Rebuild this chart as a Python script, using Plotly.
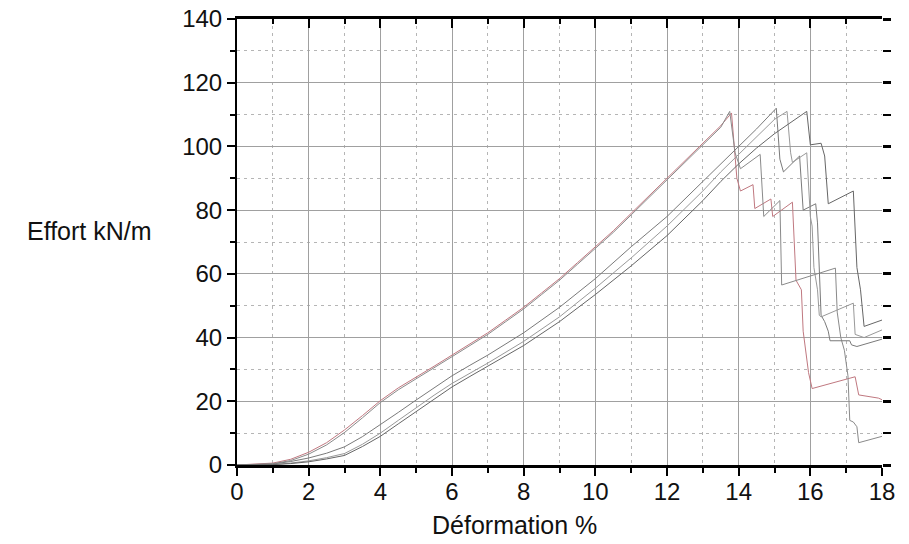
import plotly.graph_objects as go

# Rising + post-peak branches for five test specimens (Déformation %, Effort kN/m)
a_x = [0, 0.5, 1, 1.5, 2, 2.5, 3, 3.5, 4, 4.5, 5, 5.5, 6, 6.5, 7, 7.5, 8, 8.5, 9, 9.5, 10, 10.5, 11, 11.5, 12, 12.5, 13, 13.5, 13.8,
       13.95, 14.05, 14.4, 14.45, 14.9, 14.95, 15.5, 15.6, 15.75, 15.8, 15.95, 16.05, 17.25, 17.35, 17.9, 18]
a_y = [0, 0.2, 0.6, 1.8, 4, 7, 11, 15.5, 20.2, 24.2, 27.5, 31, 34.5, 38, 41.5, 45.5, 49.5, 54, 58.5, 63.5, 68.5, 73.5, 79, 84.5, 90, 95.5, 101, 106.5, 110.5,
       90, 86, 88, 80.5, 83.5, 78, 82.5, 58, 55, 42, 29, 24, 27.7, 22, 21, 20.5]

b_x = [0, 0.5, 1, 1.5, 2, 2.5, 3, 3.5, 4, 4.5, 5, 5.5, 6, 6.5, 7, 7.5, 8, 8.5, 9, 9.5, 10, 10.5, 11, 11.5, 12, 12.5, 13, 13.5, 13.75,
       13.9, 14.05, 14.6, 14.7, 15.15, 15.2, 16.7, 16.75, 16.85, 16.95, 17.05, 17.1, 17.2, 17.3, 17.35, 18]
b_y = [0, 0.1, 0.4, 1.4, 3.4, 6.3, 10.2, 14.8, 19.6, 23.6, 27, 30.5, 34, 37.5, 41, 45, 49, 53.5, 58, 63, 68, 73, 78.5, 84, 89.5, 95, 100.5, 106, 111,
       98, 93, 97.5, 78, 83, 56.5, 61.8, 48, 40, 36, 28, 14, 13.5, 12, 7, 9]

c_x = [0, 1, 1.5, 2, 2.5, 3, 3.5, 4, 4.5, 5, 5.5, 6, 6.5, 7, 8, 9, 10, 11, 12, 13, 13.5, 14, 14.5, 15.05,
       15.15, 15.25, 15.7, 15.8, 16.15, 16.2, 16.25, 16.3, 16.4, 16.5, 16.55, 17.1, 17.15, 17.3, 18]
c_y = [0, 0.3, 1.1, 2.2, 3.7, 5.7, 8.9, 12.6, 16.5, 20.4, 24.3, 28, 31.3, 34.5, 41.5, 49.5, 58.5, 68.5, 78, 89, 94.5, 100, 105.5, 112,
       96, 92, 97, 80, 82, 76, 60, 47, 45, 42, 39, 39, 37.7, 37.2, 39.5]

d_x = [0, 1, 1.5, 2, 2.5, 3, 3.5, 4, 4.5, 5, 5.5, 6, 6.5, 7, 8, 9, 10, 11, 12, 13, 13.5, 14, 14.5, 15, 15.35,
       15.45, 15.5, 15.9, 16.0, 16.05, 16.1, 16.2, 16.25, 16.3, 17.2, 17.25, 17.5, 18]
d_y = [0, 0.15, 0.6, 1.3, 2.3, 3.6, 6.5, 10, 14, 18, 21.9, 25.6, 28.8, 32, 38.8, 46.5, 55.5, 65, 75, 86, 92, 97.5, 103, 108.5, 111,
       98, 95, 98, 78, 75, 62, 55, 47, 46.5, 50.8, 41, 40, 42.4]

e_x = [0, 1, 1.5, 2, 2.5, 3, 3.5, 4, 4.5, 5, 5.5, 6, 6.5, 7, 8, 9, 10, 11, 12, 13, 13.5, 14, 14.5, 15, 15.5, 15.9,
       16.0, 16.3, 16.4, 16.5, 17.2, 17.3, 17.4, 17.5, 18]
e_y = [0, 0.1, 0.45, 1, 1.9, 3, 5.8, 9, 12.9, 16.8, 20.7, 24.5, 27.8, 31, 37.5, 45, 53.5, 62.5, 72, 83, 89, 94.5, 99.5, 104, 108, 111,
       100.5, 101, 97, 82, 86, 62, 55, 43.5, 45.5]

series = [
    (a_x, a_y, "#c07880"),
    (b_x, b_y, "#8a8a8a"),
    (c_x, c_y, "#7a7a7a"),
    (d_x, d_y, "#999999"),
    (e_x, e_y, "#666666"),
]

x_ticks = [0, 2, 4, 6, 8, 10, 12, 14, 16, 18]
y_ticks = [0, 20, 40, 60, 80, 100, 120, 140]

fig = go.Figure()
for xs, ys, col in series:
    fig.add_trace(go.Scatter(x=xs, y=ys, mode="lines", line=dict(color=col, width=1),
                             showlegend=False, hoverinfo="skip"))

tick_font = dict(family="Liberation Sans, Arial, sans-serif", size=24, color="#111")
title_font = dict(family="Liberation Sans, Arial, sans-serif", size=25, color="#111")
minor_grid = dict(showgrid=True, gridcolor="#b5b5b5", gridwidth=1, griddash="3px,4px")

fig.update_layout(
    width=909, height=544,
    margin=dict(l=237, r=27, t=19, b=79, autoexpand=False),
    paper_bgcolor="white", plot_bgcolor="white",
    font=tick_font,
    xaxis=dict(range=[0, 18], tickvals=x_ticks, ticks="outside", ticklen=8, tickwidth=2,
               tickcolor="black", showline=True, linecolor="black", linewidth=3,
               showgrid=True, gridcolor="#a0a0a0", gridwidth=1, zeroline=False, automargin=False,
               ticklabelstandoff=-5, ticklabeloverflow="allow",
               minor=dict(dtick=1, tick0=0, ticks="outside", ticklen=5, tickwidth=1.5,
                          tickcolor="black", **minor_grid),
               tickfont=tick_font),
    yaxis=dict(range=[0, 140], tickvals=y_ticks, ticks="outside", ticklen=8, tickwidth=2,
               tickcolor="black", showline=True, linecolor="black", linewidth=2,
               showgrid=True, gridcolor="#a0a0a0", gridwidth=1, zeroline=False, automargin=False,
               ticklabeloverflow="allow",
               minor=dict(dtick=10, tick0=0, ticks="outside", ticklen=5, tickwidth=1.5,
                          tickcolor="black", **minor_grid),
               tickfont=tick_font),
    xaxis2=dict(range=[0, 18], overlaying="x", side="top", tickvals=x_ticks, ticks="inside",
                ticklen=9, tickwidth=2, tickcolor="black", showline=True, linecolor="black",
                linewidth=3, showgrid=False, showticklabels=False, zeroline=False, automargin=False,
                minor=dict(dtick=1, tick0=0, ticks="inside", ticklen=5, tickwidth=1.5,
                           tickcolor="black", showgrid=False)),
    yaxis2=dict(range=[0, 140], overlaying="y", side="right", tickvals=y_ticks, ticks="outside",
                ticklen=8, tickwidth=3, tickcolor="black", showline=False, showgrid=False,
                showticklabels=False, zeroline=False, automargin=False,
                minor=dict(dtick=10, tick0=0, ticks="outside", ticklen=8, tickwidth=2,
                           tickcolor="black", showgrid=False)),
    annotations=[
        dict(text="Effort kN/m", xref="paper", yref="paper", x=-0.228, y=0.525,
             xanchor="center", yanchor="middle", showarrow=False, font=title_font),
        dict(text="Déformation %", xref="x", yref="paper", x=7.75, y=-0.135,
             xanchor="center", yanchor="middle", showarrow=False, font=title_font),
    ],
)
# invisible helper trace to activate the mirrored top/right axes
fig.add_trace(go.Scatter(x=[0], y=[0], xaxis="x2", yaxis="y2", mode="markers",
                         marker=dict(opacity=0), showlegend=False, hoverinfo="skip"))

fig.write_html("out.html", config={"displayModeBar": False},
               post_script="document.body.style.margin='0';")
